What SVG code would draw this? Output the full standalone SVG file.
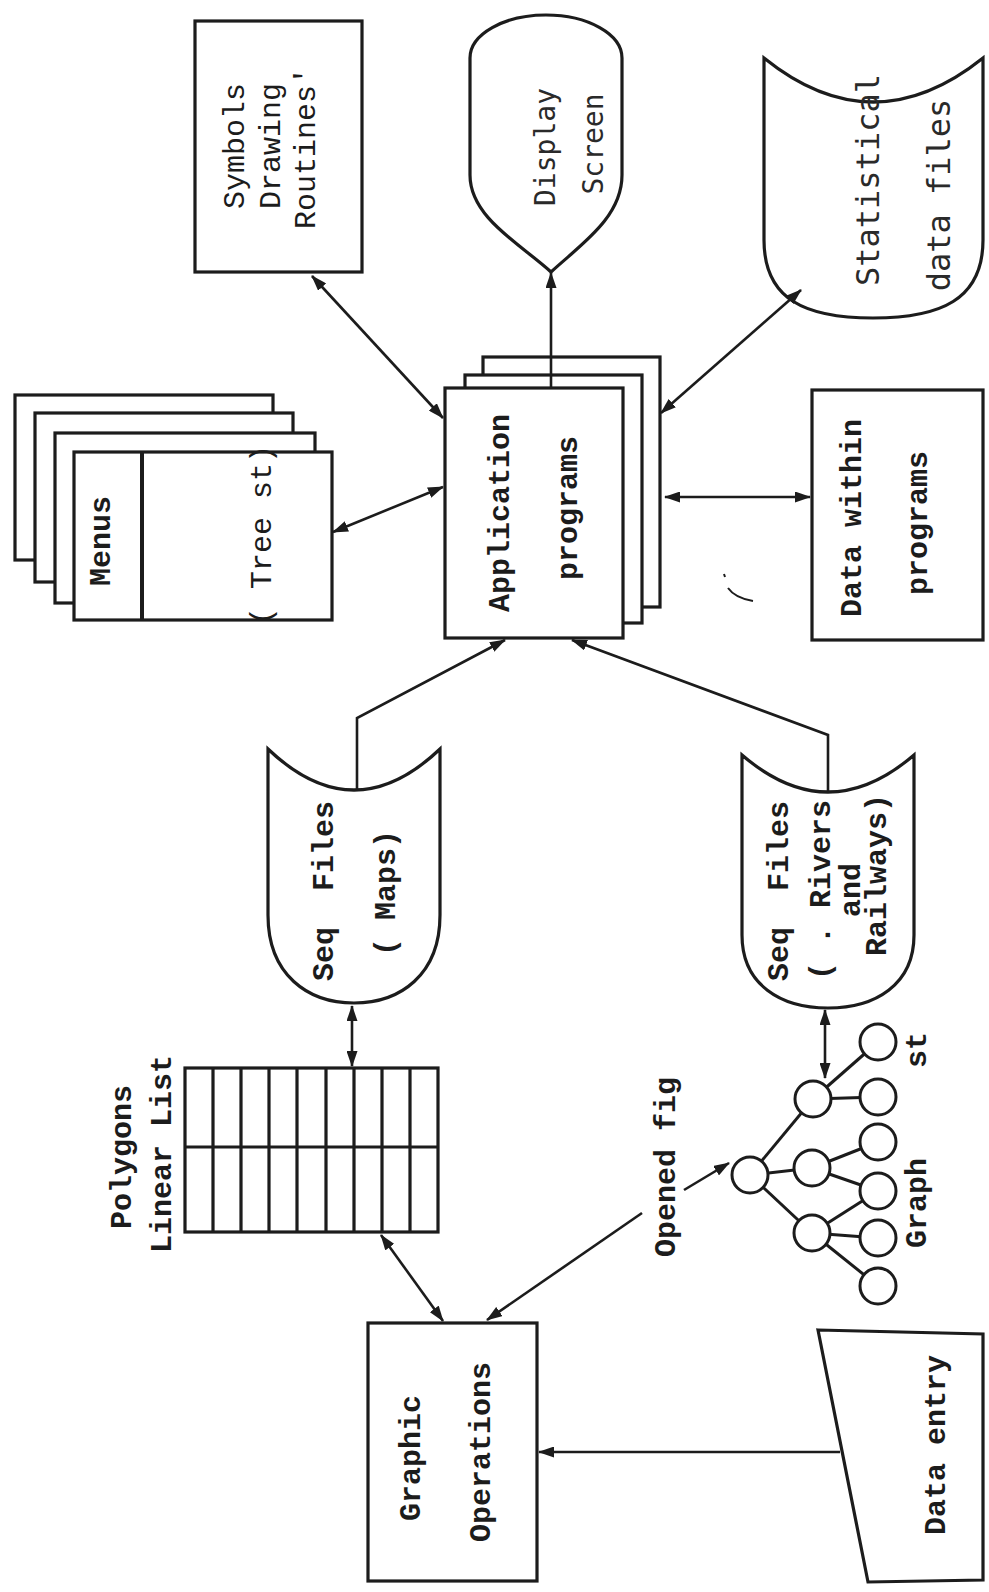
<svg xmlns="http://www.w3.org/2000/svg" width="989" height="1592" viewBox="0 0 989 1592">
<style>
.s{fill:#fff;stroke:#1c1c1c;stroke-width:3.2;stroke-linejoin:miter}
.c{fill:none;stroke:#1c1c1c;stroke-width:2.6}
.t{font-family:"Liberation Mono","DejaVu Sans Mono",monospace;font-size:30px;fill:#1c1c1c;text-anchor:middle;dominant-baseline:central}
.b{font-weight:bold}
.l{font-family:"DejaVu Sans Mono","Liberation Mono",monospace;font-size:28px;fill:#2a2a2a}
.g{fill:#fff;stroke:#1c1c1c;stroke-width:3}
</style>
<defs>
<marker id="ah" viewBox="0 0 16 11" refX="15" refY="5.5" markerWidth="16" markerHeight="11" markerUnits="userSpaceOnUse" orient="auto-start-reverse">
<path d="M0,0 L16,5.5 L0,11 Z" fill="#1c1c1c"/>
</marker>
</defs>
<rect width="989" height="1592" fill="#fff"/>

<g id="symbols">
<rect class="s" x="195" y="21" width="167" height="251"/>
<text class="t" transform="translate(236,146) rotate(-90)">Symbols</text>
<text class="t" transform="translate(272,146) rotate(-90)">Drawing</text>
<text class="t" transform="translate(307,148) rotate(-90)">Routines'</text>
</g>

<g id="display">
<path class="s" d="M470,58 L470,175 C470,218 522,245 551,272 C580,245 622,218 622,175 L622,58 A76,43 0 0 0 470,58 Z"/>
<text class="t l" transform="translate(545,147) rotate(-90)">Display</text>
<text class="t l" transform="translate(593,144) rotate(-90)">Screen</text>
</g>

<g id="statistical">
<path class="s" d="M764,58 Q873,146 983,58 L983,240 C983,300 940,318 873,318 C806,318 764,300 764,240 Z"/>
<text class="t l" style="font-size:32px" transform="translate(868,180) rotate(-90)">Statistical</text>
<text class="t l" style="font-size:32px" transform="translate(939,195) rotate(-90)">data files</text>
</g>

<g id="menus">
<rect class="s" x="15" y="395" width="258" height="165"/>
<rect class="s" x="35" y="413" width="258" height="169"/>
<rect class="s" x="55" y="433" width="260" height="170"/>
<rect class="s" x="74" y="452" width="258" height="168"/>
<line class="s" x1="142" y1="452" x2="142" y2="620" style="stroke-width:4"/>
<text class="t b" transform="translate(102,541) rotate(-90)">Menus</text>
<text class="t" transform="translate(263,535) rotate(-90)">( Tree st)</text>
</g>

<g id="application">
<rect class="s" x="483" y="357" width="177" height="250"/>
<rect class="s" x="465" y="375" width="177" height="248"/>
<rect class="s" x="445" y="388" width="178" height="250"/>
<text class="t b" transform="translate(501,513) rotate(-90)">Application</text>
<text class="t b" transform="translate(569,508) rotate(-90)">programs</text>
</g>

<g id="datawithin">
<rect class="s" x="812" y="390" width="171" height="250"/>
<text class="t b" transform="translate(853,518) rotate(-90)">Data within</text>
<text class="t b" transform="translate(919,523) rotate(-90)">programs</text>
</g>

<g id="seqmaps">
<path class="s" d="M268,749 Q354,831 440,749 L440,915 C440,975 400,1003 354,1003 C308,1003 268,975 268,915 Z"/>
<text class="t b" xml:space="preserve" transform="translate(325,891) rotate(-90)">Seq  Files</text>
<text class="t b" transform="translate(387,893) rotate(-90)">( Maps)</text>
</g>

<g id="seqrivers">
<path class="s" d="M742,755 Q828,829 914,755 L914,935 C914,985 875,1008 828,1008 C781,1008 742,985 742,935 Z"/>
<text class="t b" xml:space="preserve" transform="translate(780,891) rotate(-90)">Seq  Files</text>
<text class="t b" transform="translate(822,890) rotate(-90)">( . Rivers</text>
<text class="t b" transform="translate(852,890) rotate(-90)">and</text>
<text class="t b" transform="translate(878,875) rotate(-90)">Railways)</text>
</g>

<g id="polygons">
<rect class="s" x="185" y="1068" width="253" height="164"/>
<path class="c" style="stroke-width:3.2" d="M185,1147 H438 M213,1068 V1232 M241,1068 V1232 M269,1068 V1232 M297,1068 V1232 M326,1068 V1232 M354,1068 V1232 M382,1068 V1232 M410,1068 V1232"/>
<text class="t b" transform="translate(123,1157) rotate(-90)">Polygons</text>
<text class="t b" transform="translate(163,1154) rotate(-90)">Linear List</text>
</g>

<g id="graph">
<g class="c" style="stroke-width:3">
<line x1="750" y1="1175" x2="813" y2="1099"/>
<line x1="750" y1="1175" x2="812" y2="1168"/>
<line x1="750" y1="1175" x2="812" y2="1233"/>
<line x1="813" y1="1099" x2="878" y2="1042"/>
<line x1="813" y1="1099" x2="878" y2="1097"/>
<line x1="812" y1="1168" x2="878" y2="1142"/>
<line x1="812" y1="1168" x2="878" y2="1191"/>
<line x1="812" y1="1233" x2="878" y2="1191"/>
<line x1="812" y1="1233" x2="878" y2="1238"/>
<line x1="812" y1="1233" x2="878" y2="1286"/>
</g>
<circle class="g" cx="750" cy="1175" r="18"/>
<circle class="g" cx="813" cy="1099" r="18"/>
<circle class="g" cx="812" cy="1168" r="18"/>
<circle class="g" cx="812" cy="1233" r="18"/>
<circle class="g" cx="878" cy="1042" r="18"/>
<circle class="g" cx="878" cy="1097" r="18"/>
<circle class="g" cx="878" cy="1142" r="18"/>
<circle class="g" cx="878" cy="1191" r="18"/>
<circle class="g" cx="878" cy="1238" r="18"/>
<circle class="g" cx="878" cy="1286" r="18"/>
<text class="t b" xml:space="preserve" transform="translate(918,1140) rotate(-90)">Graph     st</text>
</g>

<g id="openedfig">
<text class="t b" transform="translate(667,1167) rotate(-90)">Opened fig</text>
</g>

<g id="graphic">
<rect class="s" x="368" y="1323" width="169" height="258"/>
<text class="t b" transform="translate(412,1458) rotate(-90)">Graphic</text>
<text class="t b" transform="translate(482,1452) rotate(-90)">Operations</text>
</g>

<g id="dataentry">
<path class="s" d="M818,1330 L983,1334 L983,1580 L868,1582 Z"/>
<text class="t b" transform="translate(937,1445) rotate(-90)">Data entry</text>
</g>

<g id="connectors">
<line class="c" x1="312" y1="276" x2="443" y2="418" marker-start="url(#ah)" marker-end="url(#ah)"/>
<line class="c" x1="333" y1="532" x2="443" y2="487" marker-start="url(#ah)" marker-end="url(#ah)"/>
<line class="c" x1="551" y1="388" x2="551" y2="273" marker-end="url(#ah)"/>
<line class="c" x1="661" y1="413" x2="801" y2="290" marker-start="url(#ah)" marker-end="url(#ah)"/>
<line class="c" x1="665" y1="497" x2="810" y2="497" marker-start="url(#ah)" marker-end="url(#ah)"/>
<polyline class="c" points="357,790 357,718 505,640" marker-end="url(#ah)"/>
<polyline class="c" points="828,792 828,735 572,640" marker-end="url(#ah)"/>
<line class="c" x1="352" y1="1006" x2="352" y2="1066" marker-start="url(#ah)" marker-end="url(#ah)"/>
<line class="c" x1="381" y1="1235" x2="443" y2="1321" marker-start="url(#ah)" marker-end="url(#ah)"/>
<line class="c" x1="642" y1="1213" x2="487" y2="1320" marker-end="url(#ah)"/>
<line class="c" x1="684" y1="1190" x2="729" y2="1163" marker-end="url(#ah)"/>
<line class="c" x1="825" y1="1010" x2="825" y2="1078" marker-start="url(#ah)" marker-end="url(#ah)"/>
<line class="c" x1="840" y1="1452" x2="539" y2="1452" marker-end="url(#ah)"/>
<path class="c" style="stroke-width:2" d="M724,574 l1,3 M728,588 Q735,598 753,601"/>
</g>
</svg>
